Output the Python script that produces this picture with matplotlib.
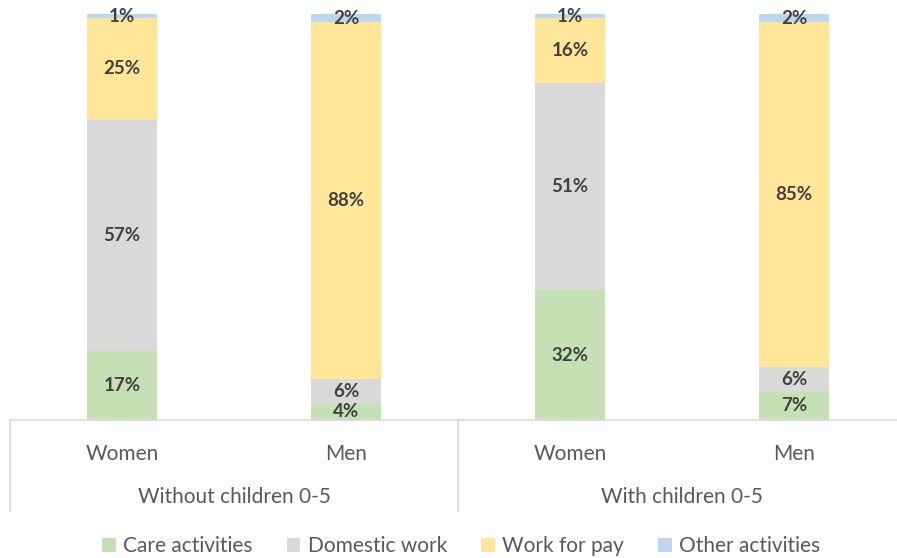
import matplotlib
matplotlib.use('Agg')
import matplotlib.pyplot as plt
import matplotlib.transforms as mtransforms
from matplotlib.patches import Patch
import numpy as np

plt.rcParams['font.family'] = ['Lato', 'DejaVu Sans']

bars = ['Women', 'Men', 'Women', 'Men']
groups = ['Without children 0-5', 'With children 0-5']
care = [17, 4, 32, 7]
domestic = [57, 6, 51, 6]
work = [25, 88, 16, 85]
other = [1, 2, 1, 2]

series = [
    ('Care activities', care, '#C5E0B4'),
    ('Domestic work', domestic, '#D9D9D9'),
    ('Work for pay', work, '#FFE699'),
    ('Other activities', other, '#BDD7EE'),
]

fig = plt.figure(figsize=(8.97, 5.58), dpi=100)
ax = fig.add_axes([10 / 897, 1 - 420 / 558, 896 / 897, 406 / 558])

x = np.arange(len(bars))
bottom = np.zeros(len(bars))
handles = []
for name, vals, color in series:
    vals = np.array(vals, dtype=float)
    ax.bar(x, vals, width=0.31, bottom=bottom, color=color, edgecolor='none')
    for xi, b, v in zip(x, bottom, vals):
        ax.text(xi, b + v / 2, f'{int(v)}%', ha='center', va='center',
                fontsize=13.5, fontweight='bold', color='#404040')
    bottom += vals
    handles.append(Patch(facecolor=color, edgecolor='none', label=name))

ax.set_xlim(-0.5, 3.5)
ax.set_ylim(0, 100)
ax.set_yticks([])
for s in ['left', 'right', 'top']:
    ax.spines[s].set_visible(False)
ax.spines['bottom'].set_color('#D9D9D9')
ax.spines['bottom'].set_linewidth(1.2)

ax.set_xticks(x)
ax.set_xticklabels(bars, fontsize=15, color='#595959')
ax.tick_params(axis='x', length=0, pad=17)

trans = mtransforms.blended_transform_factory(ax.transData, ax.transAxes)
for xv in [-0.5, 1.5, 3.5]:
    ax.plot([xv, xv], [0, -0.224], transform=trans, color='#D9D9D9',
            lw=1.2, clip_on=False)
for i, g in enumerate(groups):
    ax.text(2 * i + 0.5, -0.19, g, transform=trans, ha='center', va='center',
            fontsize=15, color='#595959')

fig.legend(handles=handles, loc='center', bbox_to_anchor=(0.514, 1 - 546 / 558),
           ncol=4, frameon=False, fontsize=15, labelcolor='#595959',
           handlelength=0.65, handleheight=0.65, handletextpad=0.35,
           columnspacing=1.65)

fig.savefig('out.png', dpi=100)
